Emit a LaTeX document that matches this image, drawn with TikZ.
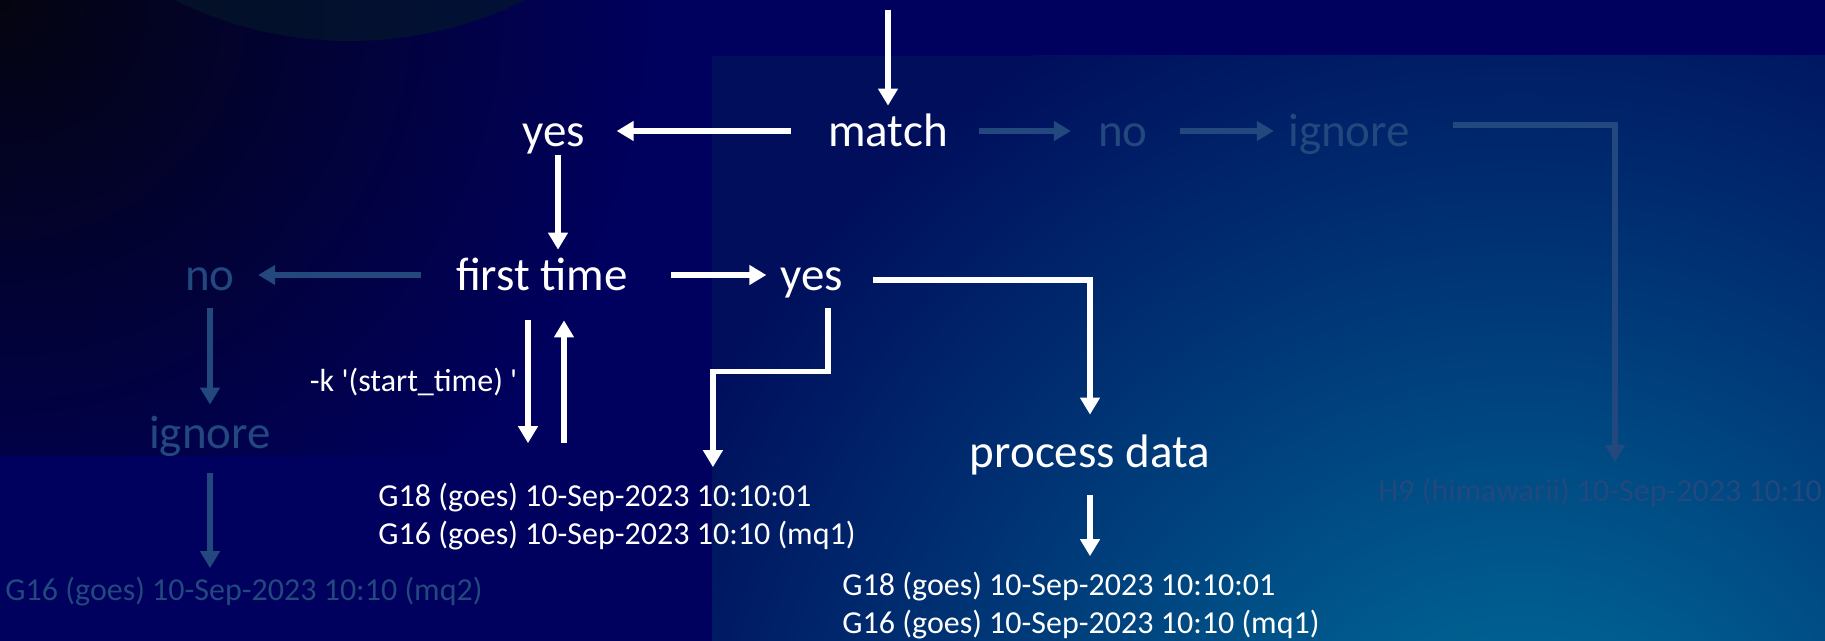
\documentclass[tikz,border=0pt]{standalone}
\usepackage{fontspec}
\setmainfont{Carlito}
\usepackage{tikz}
\usetikzlibrary{arrows.meta,positioning,calc}
\definecolor{navy}{RGB}{0,0,94}
\definecolor{corner}{RGB}{4,4,16}
\definecolor{dome}{RGB}{4,26,40}
\definecolor{panel}{RGB}{0,14,92}
\definecolor{glow}{RGB}{0,120,160}
\definecolor{faded}{RGB}{34,72,126}

\tikzset{
  word/.style={font=\fontsize{23.5}{28}\selectfont, text=white, inner sep=0pt, text height=17.6pt, text depth=2.35pt},
  note/.style={font=\fontsize{16}{19}\selectfont, text=white, inner sep=0pt, align=left},
  ghost/.style={text=faded},
  flow/.style={draw=white, line width=2.8pt, line join=miter, -{Triangle[length=8.5pt,width=9.5pt]}},
  ghostflow/.style={flow, draw=faded},
}

\begin{document}
\begin{tikzpicture}[x=0.5pt,y=-0.5pt]
    \useasboundingbox (0,0) rectangle (1825,641);
    % backdrop
    \fill[navy] (0,0) rectangle (1825,641);
    \begin{scope}
      \clip (0,0) rectangle (712,455);
      \shade[inner color=corner, outer color=navy] (0,0) ellipse [x radius=330pt, y radius=320pt];
    \end{scope}
    \fill[dome, opacity=0.6] (350,-353) circle (197pt);
    \fill[panel] (712,56) rectangle (1825,641);
    \begin{scope}
      \clip (712,56) rectangle (1825,641);
      \shade[inner color=glow, outer color=panel] (1520,860) circle (470pt);
    \end{scope}

    % decisions
    \coordinate (feed) at (888,10);
    \node[word] (match) at (888,131) {match};
    \node[word] (yes1) at (554,131) {yes};
    \node[word,ghost] (no1) at (1123,131) {no};
    \node[word,ghost] (ignore1) at (1349,131) {ignore};
    \node[word] (first) at (542,275) {first time};
    \node[word,ghost] (no2) at (210,275) {no};
    \node[word] (yes2) at (812,275) {yes};
    \node[word,ghost] (ignore2) at (210,433) {ignore};
    \node[word] (proc) at (1090,452) {process data};

    % messages
    \node[note, anchor=base west] (mid) at (378,544) {G18 (goes) 10-Sep-2023 10:10:01\\G16 (goes) 10-Sep-2023 10:10 (mq1)};
    \node[note, anchor=base west] (out) at (842,633) {G18 (goes) 10-Sep-2023 10:10:01\\G16 (goes) 10-Sep-2023 10:10 (mq1)};
    \node[note, ghost, anchor=base west] (drop) at (5,600) {G16 (goes) 10-Sep-2023 10:10 (mq2)};
    \node[note, ghost, anchor=base west] (h9) at (1378,502) {H9 (himawarii) 10-Sep-2023 10:10};

    \draw[flow, shorten >=2.5pt] (feed) -- (match);
    \draw[flow, shorten <=18.5pt, shorten >=15.5pt] (match) -- (yes1);
    \draw[ghostflow, shorten <=15.5pt, shorten >=13.5pt] (match) -- (no1);
    \draw[ghostflow, shorten <=16pt, shorten >=7pt] (no1) -- (ignore1);
    \draw[ghostflow] ([xshift=21.5pt,yshift=3pt]ignore1.east) -| ([xshift=118.5pt,yshift=8pt]h9.north west);
    \draw[flow, shorten <=2pt, shorten >=2.5pt] ([xshift=2pt]yes1.south) -- ([xshift=2pt]yes1.south |- first.north);
    \draw[ghostflow, shorten <=17.5pt, shorten >=11.5pt] (first) -- (no2);
    \draw[flow, shorten <=21.5pt, shorten >=7pt] (first) -- (yes2);
    \draw[ghostflow, shorten <=6.5pt, shorten >=4pt] (no2) -- (ignore2);
    \draw[ghostflow, shorten <=10pt, shorten >=4pt] (ignore2) -- (ignore2 |- drop.north);
    \draw[flow] ([xshift=14.5pt,yshift=-2.5pt]yes2.east) -| ([yshift=8.5pt]proc.north);
    \draw[flow] ([xshift=8pt,yshift=-6.5pt]yes2.south) -- ++(0,-31.5pt) -| ([xshift=48pt,yshift=7.5pt]mid.north);
    \draw[flow, shorten <=12.5pt, shorten >=19.5pt] ([xshift=-7pt]first.south) -- ([xshift=-7pt]first.south |- mid.north)
      node[note, midway, left=4pt, yshift=3.5pt] (opt) {-k \textquotesingle(start\_time) \textquotesingle};
    \draw[flow, shorten <=19.5pt, shorten >=12.5pt] ([xshift=11pt]first.south |- mid.north) -- ([xshift=11pt]first.south);
    \draw[flow, shorten <=11.5pt, shorten >=7.5pt] (proc) -- (proc |- out.north);
\end{tikzpicture}
\end{document}
